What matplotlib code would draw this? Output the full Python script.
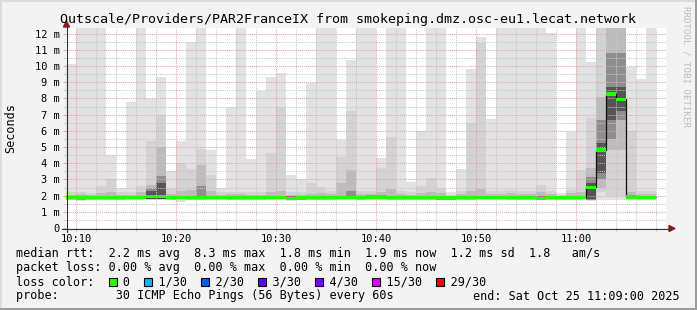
import numpy as np
import matplotlib
matplotlib.use("Agg")
import matplotlib.pyplot as plt
import matplotlib.transforms as mtransforms
from matplotlib.patches import Rectangle, Polygon
from matplotlib.lines import Line2D

W, H = 697, 310
MONO = "DejaVu Sans Mono"

# one bar per minute, first bar starts 10:09, graph ends 11:09
start_minute = 9          # minutes after 10:00
tick_minutes = [10, 20, 30, 40, 50, 60]
tick_labels = ["10:10", "10:20", "10:30", "10:40", "10:50", "11:00"]
ytick_values = [0, 1, 2, 3, 4, 5, 6, 7, 8, 9, 10, 11, 12]
ytick_labels = ["0", "1 m", "2 m", "3 m", "4 m", "5 m", "6 m", "7 m", "8 m", "9 m", "10 m", "11 m", "12 m"]
y_max_ms = 12.35

# median rtt per minute (ms)
median_ms = [1.88, 1.85, 1.87, 1.87, 1.86, 1.88, 1.90, 1.90, 1.93, 1.94,
             1.88, 1.89, 1.88, 1.88, 1.89, 1.90, 1.88, 1.87, 1.87, 1.88,
             1.89, 1.89, 1.84, 1.85, 1.87, 1.88, 1.88, 1.90, 1.89, 1.88,
             1.92, 1.91, 1.86, 1.86, 1.86, 1.86, 1.87, 1.85, 1.85, 1.86,
             1.86, 1.89, 1.89, 1.89, 1.86, 1.86, 1.88, 1.84, 1.86, 1.86,
             1.86, 1.90, 2.52, 4.82, 8.28, 7.95, 1.92, 1.89, 1.89]

# smoke: outer band = min..max, inner bands = progressively narrower ping ranges
max_ms = [10.1, 14, 14, 14, 4.5, 2.45, 7.75, 14, 7.95, 9.35,
          3.5, 5.4, 11.5, 14, 4.8, 2.45, 7.45, 14, 4.25, 8.45,
          9.35, 9.6, 3.25, 3.0, 8.95, 14, 14, 5.45, 10.35, 14,
          14, 4.35, 14, 14, 2.85, 6.0, 14, 14, 2.2, 3.65,
          9.8, 11.8, 6.75, 14, 14, 14, 14, 14, 12.05, 2.15,
          5.9, 14, 10.27, 14, 14, 14, 9.96, 9.2, 14]
min_ms = [1.72, 1.68, 1.72, 1.72, 1.70, 1.72, 1.74, 1.72, 1.74, 1.75,
          1.72, 1.62, 1.70, 1.72, 1.72, 1.72, 1.72, 1.72, 1.70, 1.72,
          1.72, 1.72, 1.65, 1.70, 1.72, 1.72, 1.72, 1.72, 1.70, 1.72,
          1.72, 1.72, 1.70, 1.72, 1.72, 1.70, 1.72, 1.70, 1.72, 1.70,
          1.72, 1.70, 1.70, 1.72, 1.72, 1.72, 1.70, 1.70, 1.72, 1.72,
          1.72, 1.72, 1.65, 1.72, 1.75, 1.75, 1.70, 1.72, 1.72]
band2_hi = [2.2, 2.25, 2.15, 2.6, 3.05, 2.2, 2.2, 2.6, 5.4, 7.0,
            2.5, 4.0, 3.65, 4.9, 3.25, 2.2, 2.25, 2.25, 2.2, 2.2,
            4.65, 7.5, 2.2, 2.2, 2.75, 2.55, 2.3, 4.4, 7.25, 2.3,
            2.3, 3.7, 5.6, 2.3, 2.2, 2.6, 3.1, 2.45, 2.05, 2.3,
            6.5, 11.4, 2.3, 2.3, 2.35, 2.3, 2.3, 2.65, 2.3, 2.05,
            2.35, 3.6, 6.8, 14, 14, 14, 6.0, 2.3, 2.3]
band2_lo = [1.75, 1.75, 1.75, 1.75, 1.75, 1.75, 1.75, 1.75, 1.75, 1.75,
            1.75, 1.75, 1.75, 1.75, 1.75, 1.75, 1.75, 1.75, 1.75, 1.75,
            1.75, 1.75, 1.75, 1.75, 1.75, 1.75, 1.75, 1.75, 1.75, 1.75,
            1.75, 1.75, 1.75, 1.75, 1.75, 1.75, 1.75, 1.75, 1.75, 1.75,
            1.75, 1.75, 1.75, 1.75, 1.75, 1.75, 1.75, 1.75, 1.75, 1.75,
            1.75, 1.75, 1.70, 2.2, 2.0, 2.0, 1.75, 1.75, 1.75]
band3_hi = [2.05, 2.1, 2.05, 2.15, 2.25, 2.05, 2.05, 2.2, 2.65, 5.0,
            2.1, 2.3, 2.35, 3.9, 2.3, 2.05, 2.1, 2.1, 2.05, 2.05,
            2.2, 2.3, 2.05, 2.05, 2.1, 2.15, 2.1, 2.75, 3.6, 2.1,
            2.1, 2.2, 2.4, 2.1, 2.05, 2.15, 2.2, 2.15, 2.0, 2.1,
            2.3, 2.4, 2.1, 2.1, 2.15, 2.1, 2.1, 2.2, 2.1, 2.0,
            2.15, 2.2, 3.7, 8.1, 14, 14, 2.2, 2.1, 2.1]
band3_lo = [1.78, 1.78, 1.78, 1.78, 1.78, 1.78, 1.78, 1.78, 1.78, 1.78,
            1.78, 1.78, 1.78, 1.78, 1.78, 1.78, 1.78, 1.78, 1.78, 1.78,
            1.78, 1.78, 1.78, 1.78, 1.78, 1.78, 1.78, 1.78, 1.78, 1.78,
            1.78, 1.78, 1.78, 1.78, 1.78, 1.78, 1.78, 1.78, 1.78, 1.78,
            1.78, 1.78, 1.78, 1.78, 1.78, 1.78, 1.78, 1.78, 1.78, 1.78,
            1.78, 1.78, 1.72, 2.45, 4.8, 4.8, 1.78, 1.78, 1.78]
band4_hi = [2.0, 2.0, 2.0, 2.0, 2.0, 2.0, 2.0, 2.0, 2.45, 3.2,
            2.0, 2.0, 2.0, 2.6, 2.0, 2.0, 2.0, 2.0, 2.0, 2.0,
            2.0, 2.0, 2.0, 2.0, 2.0, 2.0, 2.0, 2.0, 2.3, 2.0,
            2.0, 2.0, 2.0, 2.0, 2.0, 2.0, 2.0, 2.0, 2.0, 2.0,
            2.0, 2.0, 2.0, 2.0, 2.0, 2.0, 2.0, 2.0, 2.0, 2.0,
            2.0, 2.0, 3.15, 6.67, 10.8, 10.8, 2.0, 2.0, 2.0]
band4_lo = [1.80, 1.80, 1.80, 1.80, 1.80, 1.80, 1.80, 1.80, 1.80, 1.80,
            1.80, 1.80, 1.80, 1.80, 1.80, 1.80, 1.80, 1.80, 1.80, 1.80,
            1.80, 1.80, 1.80, 1.80, 1.80, 1.80, 1.80, 1.80, 1.80, 1.80,
            1.80, 1.80, 1.80, 1.80, 1.80, 1.80, 1.80, 1.80, 1.80, 1.80,
            1.80, 1.80, 1.80, 1.80, 1.80, 1.80, 1.80, 1.80, 1.80, 1.80,
            1.80, 1.80, 1.75, 3.0, 5.5, 6.67, 1.80, 1.80, 1.80]
band5_hi = [1.96, 1.96, 1.96, 1.96, 1.96, 1.96, 1.96, 1.96, 2.3, 2.75,
            1.96, 1.96, 1.96, 1.96, 1.96, 1.96, 1.96, 1.96, 1.96, 1.96,
            1.96, 1.96, 1.96, 1.96, 1.96, 1.96, 1.96, 1.96, 1.96, 1.96,
            1.96, 1.96, 1.96, 1.96, 1.96, 1.96, 1.96, 1.96, 1.96, 1.96,
            1.96, 1.96, 1.96, 1.96, 1.96, 1.96, 1.96, 1.96, 1.96, 1.96,
            1.96, 1.96, 2.75, 5.23, 8.72, 8.72, 1.96, 1.96, 1.96]
band5_lo = [1.82, 1.82, 1.82, 1.82, 1.82, 1.82, 1.82, 1.82, 1.82, 1.82,
            1.82, 1.82, 1.82, 1.82, 1.82, 1.82, 1.82, 1.82, 1.82, 1.82,
            1.82, 1.82, 1.82, 1.82, 1.82, 1.82, 1.82, 1.82, 1.82, 1.82,
            1.82, 1.82, 1.82, 1.82, 1.82, 1.82, 1.82, 1.82, 1.82, 1.82,
            1.82, 1.82, 1.82, 1.82, 1.82, 1.82, 1.82, 1.82, 1.82, 1.82,
            1.82, 1.82, 1.80, 3.37, 6.67, 7.2, 1.82, 1.82, 1.82]

smoke_colors = ["#e2e2e2", "#d3d3d3", "#bcbcbc", "#8e8e8e", "#555555"]

loss_labels = ["0", "1/30", "2/30", "3/30", "4/30", "15/30", "29/30"]
loss_colors = ["#26ff00", "#00b8ff", "#0059ff", "#5e00ff", "#7e00ff", "#dd00ff", "#ff0000"]

title = "Outscale/Providers/PAR2FranceIX from smokeping.dmz.osc-eu1.lecat.network"
legend_rtt = "median rtt:  2.2 ms avg  8.3 ms max  1.8 ms min  1.9 ms now  1.2 ms sd  1.8   am/s"
legend_loss = "packet loss: 0.00 % avg  0.00 % max  0.00 % min  0.00 % now"
legend_probe = "probe:        30 ICMP Echo Pings (56 Bytes) every 60s"
legend_end = "end: Sat Oct 25 11:09:00 2025"

fig = plt.figure(figsize=(W / 100, H / 100), dpi=100, facecolor="#f3f3f3")
# pixel coords, origin top-left
px = mtransforms.Affine2D().scale(1 / W, -1 / H).translate(0, 1) + fig.transFigure

x0, x1, y_top, y0 = 66, 666, 28, 228
ax = fig.add_axes([x0 / W, 1 - y0 / H, (x1 - x0) / W, (y0 - y_top) / H])
ax.set_facecolor("white")
ax.set_xlim(start_minute, start_minute + 60)
ax.set_ylim(0, y_max_ms)

xs = start_minute + np.arange(len(max_ms))
bands = [(min_ms, max_ms), (band2_lo, band2_hi), (band3_lo, band3_hi),
         (band4_lo, band4_hi), (band5_lo, band5_hi)]
for (lo, hi), col in zip(bands, smoke_colors):
    lo, hi = np.array(lo), np.array(hi)
    ax.bar(xs, hi - lo, bottom=lo, width=1, align="edge", color=col,
           linewidth=0, zorder=1)

# median: black step line plus green (no loss) markers
med = np.array(median_ms)
edges = start_minute + np.arange(len(med) + 1)
ax.stairs(med, edges, baseline=None, color="#111111", lw=0.9, zorder=4)
sw = 0.1
ax.bar(xs, 2 * sw, bottom=med - sw, width=1, align="edge",
       color=loss_colors[0], linewidth=0, zorder=5)

# grid
ax.set_xticks(tick_minutes, tick_labels)
ax.set_xticks(np.arange(10, 69, 2), minor=True)
ax.set_yticks(ytick_values, ytick_labels)
ax.set_yticks(np.arange(0.5, 12.4, 1), minor=True)
ax.set_axisbelow(False)
ax.grid(which="major", color="#f0a0a0", linestyle=(0, (1, 1)), lw=0.75)
ax.grid(which="minor", color="#c6c6c6", linestyle=(0, (1, 1)), lw=0.75)
ax.tick_params(which="major", length=2.5, width=0.75, color="#f0a0a0", pad=2,
               labelsize=7.5)
ax.tick_params(which="minor", length=2, width=0.75, color="#c6c6c6")
for lab in ax.get_xticklabels() + ax.get_yticklabels():
    lab.set_family(MONO)
for s in ax.spines.values():
    s.set_visible(False)

# axes with arrows
axis_col = "#333333"
fig.add_artist(Line2D([62, 670], [228.5, 228.5], transform=px, color=axis_col, lw=0.8))
fig.add_artist(Line2D([66.5, 66.5], [232, 25], transform=px, color=axis_col, lw=0.8))
fig.add_artist(Polygon([(669, 225.5), (675, 228.5), (669, 231.5)], closed=True,
                       transform=px, color="#8b1a1a"))
fig.add_artist(Polygon([(63.5, 27), (66.5, 21), (69.5, 27)], closed=True,
                       transform=px, color="#8b1a1a"))

# frame
fig.add_artist(Rectangle((0, 0), W, 2, transform=px, color="#dcdcdc", lw=0))
fig.add_artist(Rectangle((0, 0), 2, H, transform=px, color="#dcdcdc", lw=0))
fig.add_artist(Rectangle((0, H - 2), W, 2, transform=px, color="#9c9c9c", lw=0))
fig.add_artist(Rectangle((W - 2, 0), 2, H, transform=px, color="#9c9c9c", lw=0))

# texts
fig.text(348, 19, title, transform=px, family=MONO, size=9.6, ha="center", va="center")
fig.text(11, 128, "Seconds", transform=px, family=MONO, size=8.5, rotation=90,
         ha="center", va="center")
fig.text(686, 67, "RRDTOOL / TOBI OETIKER", transform=px, family=MONO, size=6.6,
         rotation=270, ha="center", va="center", color="#bdbdbd")

lx, lsize = 16, 8.5
adv = 0.602 * lsize * 100 / 72
fig.text(lx, 254, legend_rtt, transform=px, family=MONO, size=lsize, va="center")
fig.text(lx, 268, legend_loss, transform=px, family=MONO, size=lsize, va="center")
loss_line = "loss color:  " + "".join("  " + l + "  " for l in loss_labels)
fig.text(lx, 282, loss_line, transform=px, family=MONO, size=lsize, va="center")
col = 13
for lab, c in zip(loss_labels, loss_colors):
    bx = lx + col * adv
    fig.add_artist(Rectangle((bx + 0.5, 277.5), 8, 8, transform=px, facecolor=c,
                             edgecolor="black", lw=0.8))
    col += 2 + len(lab) + 2
fig.text(lx, 296, legend_probe, transform=px, family=MONO, size=lsize, va="center")
fig.text(680, 296, legend_end, transform=px, family=MONO, size=lsize, va="center",
         ha="right")

fig.savefig("out.png", dpi=100, facecolor=fig.get_facecolor())
